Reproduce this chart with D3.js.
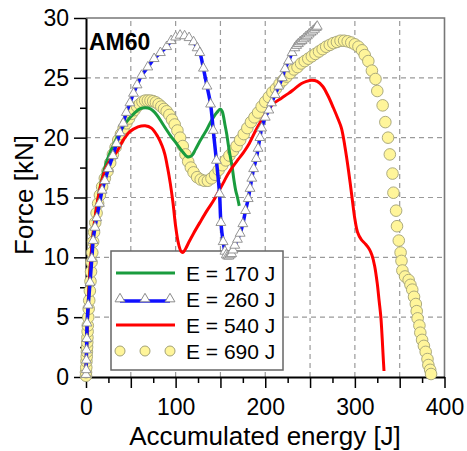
<!DOCTYPE html>
<html>
<head>
<meta charset="utf-8">
<script src="https://cdn.jsdelivr.net/npm/d3@7"></script>
<style>
  body { margin: 0; background: #fff; }
  text { font-family: "Liberation Sans", Arial, sans-serif; }
</style>
</head>
<body>
<svg id="chart" width="467" height="451"></svg>
<script>
// [accumulated energy J, force kN]
const e170 = [[0,0],[0.5,2],[1.5,4.5],[3,7],[5,9.5],[8,12],[12,14.3],[17,16.3],[23,18],[30,19.3],[38,20.5],[45,21.3],
  [52,21.9],[60,22.4],[66,22.5],[72,22.4],[79,21.9],[86,21.1],[94,20.2],[101,19.5],[108,18.8],[113,18.4],[118,18.5],
  [122,19],[127,19.7],[131,20.2],[135,20.7],[139,21.3],[143,21.8],[146,22.1],[150,22.4],[152,22.2],[155,21.1],
  [157,20.3],[159,19.3],[161,18.4],[163,17.6],[165,16.5],[167,15.6],[169,15],[171,14.3]];

const e260 = [[0,0.2],[0.2,0.6],[0.4,1.4],[0.6,2.25],[0.9,3.2],[1.2,4.5],[2.5,6],[4.5,7.9],[6.5,9.9],[8,11.4],[10,12.5],
  [12,13.3],[15,14.5],[18,15.6],[21,16.4],[25,17.4],[30,18.5],[34,19.5],[38,20.4],[41.5,21.2],[45,22.1],[49,22.9],
  [53,23.7],[57,24.4],[62,25.2],[69,25.9],[76,26.6],[83,27.1],[90,27.6],[95,28.1],[100,28.4],[105,28.55],[110,28.5],
  [115,28.35],[120,28],[124,27.5],[127,27.1],[131,25.8],[135,24.3],[139,22.8],[142,20.6],[145.5,18.1],[149,15.3],
  [150.5,12.9],[153,11.3],[155,10.5],[156.5,10.2],[158,10.1],[159.5,10.1],[161,10.2],[162.5,10.3],[164,10.6],
  [166,11],[169,11.5],[172,12],[175,12.8],[178,13.9],[181,14.9],[183,15.75],[185,16.6],[187,17.4],[190,18.25],
  [192,19.1],[194,20],[196,20.8],[200,21.7],[204,22.3],[207,22.9],[211,23.6],[215,24.3],[219,25],[222,25.75],
  [226,26.4],[230,27.1],[233,27.5],[235,27.7],[237,27.85],[239,28],[241,28.1],[243,28.25],[245,28.4],[247,28.5],
  [249,28.65],[251,28.8],[253,28.9],[255,29.05],[257,29.2],[258,29.3]];

const e540 = [[0,0],[0.5,2],[1.5,4.5],[3,7],[5,9.5],[8,12],[12,14.3],[17,16.2],[23,17.6],[30,18.4],[35,18.9],[41.5,19.8],
  [49,20.5],[58,20.9],[66,21],[73,20.8],[80,20.1],[85,19.3],[88,18.6],[91,17.5],[94,16.2],[97,14.6],[100,12.6],
  [103,11.2],[106,10.5],[108,10.4],[111,10.7],[115,11.3],[120,12],[127,12.9],[135,13.9],[142,14.7],[148,15.5],
  [153,16.2],[158,16.9],[164,17.6],[170,18.2],[176,18.8],[182,19.5],[188,20.4],[193,21.1],[198,21.7],[204,22.4],
  [210,22.9],[218,23.3],[226,23.7],[233,24.1],[240,24.5],[246,24.7],[252,24.8],[258,24.7],[264,24.3],[270,23.5],
  [276,22.5],[281,21.6],[285,20.8],[289,19.2],[293,17.2],[297,14.9],[300,13.2],[303,12.1],[307,11.5],[312,11.1],
  [316,10.7],[319,10.2],[322,9.3],[325,7.8],[327,6.4],[329,5],[330.5,3.2],[331.5,1.8],[332.5,0.5]];

const e690 = [[0,0.1],[0,0.4],[0.3,0.8],[0.5,1.3],[0.8,1.7],[1,2.1],[1.2,2.5],[1.4,2.9],[1.6,3.3],[1.8,3.8],[2,4.3],
  [2.5,5],[3,5.7],[3.6,6.4],[4.3,7.2],[5,8],[5.6,8.8],[6.2,9.6],[7,10.4],[8,11.3],[9,12.1],[10.3,12.9],[11.8,13.7],
  [13.5,14.5],[15.5,15.2],[18,15.9],[21,16.6],[24,17.2],[27,17.9],[30,18.6],[33,19.2],[36,19.8],[39,20.3],[42,20.8],
  [45,21.2],[48,21.6],[51,22],[54,22.3],[57,22.6],[60,22.8],[63,23],[66,23.1],[69,23.1],[72,23.1],[75,23.05],
  [78,22.95],[81,22.8],[84,22.6],[87,22.4],[90,22.2],[93,21.9],[96,21.5],[99,21.1],[102,20.6],[105,20],[108,19.3],
  [111,18.6],[114,18],[117,17.5],[120,17.1],[124,16.7],[128,16.5],[132,16.4],[136,16.4],[140,16.6],[144,16.9],
  [148,17.3],[152,17.7],[156,18.1],[160,18.5],[164,18.9],[168,19.3],[172,19.8],[176,20.3],[180,20.8],[184,21.3],
  [188,21.7],[192,22.1],[196,22.6],[200,23],[204,23.4],[208,23.8],[212,24.1],[216,24.5],[220,24.8],[224,25.1],
  [228,25.4],[232,25.7],[236,25.9],[240,26.2],[244,26.4],[248,26.6],[252,26.8],[256,27],[260,27.2],[264,27.4],
  [268,27.6],[272,27.75],[276,27.9],[280,28],[284,28.1],[288,28.1],[292,28.05],[296,27.95],[300,27.8],[304,27.6],
  [308,27.3],[311,26.9],[315,26.4],[319,25.6],[323,24.9],[325,23.9],[331,22.7],[334,21.3],[337,20],[339,18.6],
  [342,17],[343,15.4],[346,13.9],[347,12.6],[349,11.4],[351,10.4],[352,9.7],[353,8.9],[356,8.4],[360,8.1],[362,7.7],
  [364,7.3],[366,6.7],[368,6.1],[369,5.5],[370,4.9],[372,4.3],[373,3.7],[375,3.1],[377,2.6],[379,2.1],[381,1.5],
  [382,1],[384,0.6],[385,0.25]];

const xLabels = [0, 100, 200, 300, 400];
const yLabels = [0, 5, 10, 15, 20, 25, 30];
const legendNames = ["E = 170 J", "E = 260 J", "E = 540 J", "E = 690 J"];

const svg = d3.select("#chart");
const x = d3.scaleLinear().domain([0, 400]).range([86, 444.5]);
const y = d3.scaleLinear().domain([0, 30]).range([377, 18]);

// grid
const grid = svg.append("g").attr("stroke", "#9a9a9a").attr("stroke-width", 1.2).attr("stroke-dasharray", "5,4");
grid.selectAll(".gx").data(d3.range(50, 400, 50)).join("line")
  .attr("x1", d => x(d)).attr("x2", d => x(d)).attr("y1", y(0)).attr("y2", y(30));
grid.selectAll(".gy").data(d3.range(5, 30, 5)).join("line")
  .attr("x1", x(0)).attr("x2", x(400)).attr("y1", d => y(d)).attr("y2", d => y(d));

// top / right frame
svg.append("path")
  .attr("d", `M${x(0)},${y(30)}H${x(400)}V${y(0)}`)
  .attr("fill", "none").attr("stroke", "#777").attr("stroke-width", 1.6);

// axes
const xAxis = svg.append("g").attr("transform", `translate(0,${y(0)})`)
  .call(d3.axisBottom(x).tickValues(d3.range(0, 401, 50)).tickSize(11).tickSizeOuter(0).tickPadding(11)
    .tickFormat(d => xLabels.includes(d) ? d : ""));
svg.append("g").attr("transform", `translate(0,${y(0)})`)
  .call(d3.axisBottom(x).tickValues(d3.range(25, 400, 50)).tickSize(6).tickFormat(""))
  .call(g => g.select(".domain").remove());
const yAxis = svg.append("g").attr("transform", `translate(${x(0)},0)`)
  .call(d3.axisLeft(y).tickValues(yLabels).tickSize(12).tickSizeOuter(0).tickPadding(5));
svg.append("g").attr("transform", `translate(${x(0)},0)`)
  .call(d3.axisLeft(y).tickValues(d3.range(2.5, 30, 5)).tickSize(6).tickFormat(""))
  .call(g => g.select(".domain").remove());

svg.selectAll(".domain").attr("stroke-width", 2);
svg.selectAll(".tick line").attr("stroke-width", 1.5);
svg.selectAll(".tick text").attr("font-size", 23).attr("fill", "#000")
  .attr("font-family", '"Liberation Sans", Arial, sans-serif');

// axis titles
svg.append("text")
  .attr("x", 265).attr("y", 445)
  .attr("text-anchor", "middle").attr("font-size", 26)
  .text("Accumulated energy [J]");
svg.append("text")
  .attr("transform", "translate(33,195) rotate(-90)")
  .attr("text-anchor", "middle").attr("font-size", 26)
  .text("Force [kN]");

svg.append("text")
  .attr("x", 89).attr("y", 50)
  .attr("font-size", 23).attr("font-weight", "bold")
  .text("AM60");

// legend (curves are drawn over it)
const lg = svg.append("g");
lg.append("rect").attr("x", 111).attr("y", 251).attr("width", 172).attr("height", 119)
  .attr("fill", "#fff").attr("stroke", "#666").attr("stroke-width", 1.5);
const rowY = i => 273 + i * 26;
const triangle = d3.symbol().type(d3.symbolTriangle).size(42);

lg.append("line").attr("x1", 116).attr("x2", 175).attr("y1", rowY(0)).attr("y2", rowY(0))
  .attr("stroke", "#1a9c3e").attr("stroke-width", 3);
lg.append("line").attr("x1", 120).attr("x2", 170).attr("y1", rowY(1) + 2).attr("y2", rowY(1) + 2)
  .attr("stroke", "#1010ff").attr("stroke-width", 3.5);
[120, 145, 170].forEach(px => {
  lg.append("path").attr("d", triangle).attr("transform", `translate(${px},${rowY(1)})`)
    .attr("fill", "#fff").attr("stroke", "#8a8a8a").attr("stroke-width", 1);
  lg.append("circle").attr("cx", px).attr("cy", rowY(3)).attr("r", 5)
    .attr("fill", "#fff59a").attr("stroke", "#a3a277").attr("stroke-width", 1);
});
lg.append("line").attr("x1", 116).attr("x2", 175).attr("y1", rowY(2)).attr("y2", rowY(2))
  .attr("stroke", "#ff0000").attr("stroke-width", 3);
legendNames.forEach((name, i) => {
  lg.append("text").attr("x", 186).attr("y", rowY(i)).attr("dy", "0.36em")
    .attr("font-size", 21).text(name);
});

// curves
const line = d3.line()
  .x(d => x(d[0]))
  .y(d => y(d[1]))
  .curve(d3.curveCatmullRom.alpha(0.5));

svg.append("g").selectAll("circle").data(e690).join("circle")
  .attr("cx", d => x(d[0])).attr("cy", d => y(d[1])).attr("r", 5.8)
  .attr("fill", "#fff59a").attr("stroke", "#a3a277").attr("stroke-width", 0.9);

svg.append("path").datum(e170).attr("d", line)
  .attr("fill", "none").attr("stroke", "#1a9c3e").attr("stroke-width", 3);

svg.append("path").datum(e540).attr("d", line)
  .attr("fill", "none").attr("stroke", "#ff0000").attr("stroke-width", 3);

svg.append("path").datum(e260).attr("d", line)
  .attr("fill", "none").attr("stroke", "#1010ff").attr("stroke-width", 3.5);
svg.append("g").selectAll("path").data(e260).join("path")
  .attr("d", triangle)
  .attr("transform", d => `translate(${x(d[0])},${y(d[1])})`)
  .attr("fill", "#fff").attr("stroke", "#8a8a8a").attr("stroke-width", 0.9);
</script>
</body>
</html>
